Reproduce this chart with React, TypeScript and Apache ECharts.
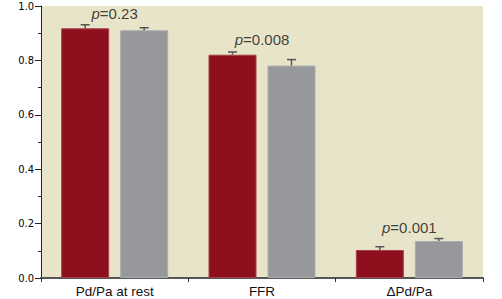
import React, { useEffect, useRef } from "react";
import * as echarts from "echarts";

const categories = ["Pd/Pa at rest", "FFR", "ΔPd/Pa"];
const seriesA = [0.918, 0.821, 0.103];
const seriesAErr = [0.931, 0.831, 0.115];
const seriesB = [0.911, 0.781, 0.136];
const seriesBErr = [0.92, 0.803, 0.145];
const pLabels = ["0.23", "0.008", "0.001"];
const pLabelY = [0.972, 0.876, 0.184];
const yTicks = [0, 0.2, 0.4, 0.6, 0.8, 1.0];

const BAR_W = 48;
const BAR_GAP_PX = 11;

export default function App() {
  const ref = useRef<HTMLDivElement>(null);
  useEffect(() => {
    if (!ref.current) return;
    const chart = echarts.init(ref.current, null, { renderer: "svg" });
    const errData: any[] = [];
    seriesA.forEach((v, i) => errData.push([i, v, seriesAErr[i], 0]));
    seriesB.forEach((v, i) => errData.push([i, v, seriesBErr[i], 1]));
    chart.setOption({
      animation: false,
      grid: {
        left: 41,
        right: 19,
        top: 6,
        bottom: 21,
        show: true,
        backgroundColor: "#E8E4C9",
        borderWidth: 0,
      },
      xAxis: {
        type: "category",
        data: categories,
        boundaryGap: true,
        axisLine: { lineStyle: { color: "#555", width: 2 } },
        axisTick: { show: true, length: 4, interval: 0, lineStyle: { color: "#333", width: 1 } },
        axisLabel: {
          color: "#111",
          fontFamily: "Liberation Sans, Arial, sans-serif",
          fontSize: 13.5,
          margin: 6,
        },
      },
      yAxis: {
        type: "value",
        min: 0,
        max: 1,
        interval: 0.2,
        splitLine: { show: false },
        axisLine: { show: true, lineStyle: { color: "#222", width: 1 } },
        axisTick: { show: true, length: 6, lineStyle: { color: "#222" } },
        minorTick: { show: true, splitNumber: 2, length: 3, lineStyle: { color: "#222" } },
        axisLabel: {
          color: "#000",
          fontFamily: "Liberation Sans Narrow, DejaVu Sans Condensed, sans-serif",
          fontSize: 11,
          margin: 7,
          formatter: (v: number) => (yTicks.some((t) => Math.abs(t - v) < 1e-9) ? v.toFixed(1) : ""),
        },
      },
      series: [
        {
          type: "bar",
          data: seriesA,
          barWidth: BAR_W,
          barGap: `${(BAR_GAP_PX / BAR_W) * 100}%`,
          itemStyle: { color: "#8E0F1E", borderColor: "#A8404C", borderWidth: 1 },
        },
        {
          type: "bar",
          data: seriesB,
          barWidth: BAR_W,
          itemStyle: { color: "#97989C", borderColor: "#ABACAE", borderWidth: 1 },
        },
        {
          type: "custom",
          data: errData,
          z: 5,
          renderItem: (params: any, api: any) => {
            const cat = api.value(0);
            const top = api.value(1);
            const cap = api.value(2);
            const s = api.value(3);
            const off = (s === 0 ? -1 : 1) * (BAR_W + BAR_GAP_PX) / 2;
            const p1 = api.coord([cat, top]);
            const p2 = api.coord([cat, cap]);
            const x = p1[0] + off;
            const style = { stroke: "#555", lineWidth: 1.5 };
            return {
              type: "group",
              children: [
                { type: "line", shape: { x1: x, y1: p1[1], x2: x, y2: p2[1] }, style },
                { type: "line", shape: { x1: x - 4.5, y1: p2[1], x2: x + 4.5, y2: p2[1] }, style },
              ],
            };
          },
        },
        {
          type: "scatter",
          symbolSize: 0,
          data: pLabels.map((p, i) => ({ value: [i, pLabelY[i]], p })),
          label: {
            show: true,
            position: "inside",
            formatter: (d: any) => `{i|p}{n|=${d.data.p}}`,
            rich: {
              i: { fontStyle: "italic", fontSize: 15, color: "#111", fontFamily: "Liberation Sans, Arial, sans-serif" },
              n: { fontSize: 15, color: "#111", fontFamily: "Liberation Sans, Arial, sans-serif" },
            },
          },
          z: 6,
        },
      ],
    });
    return () => chart.dispose();
  }, []);
  return (
    <div
      ref={ref}
      style={{ position: "fixed", left: 0, top: 0, width: 502, height: 299, background: "#fff" }}
    />
  );
}
